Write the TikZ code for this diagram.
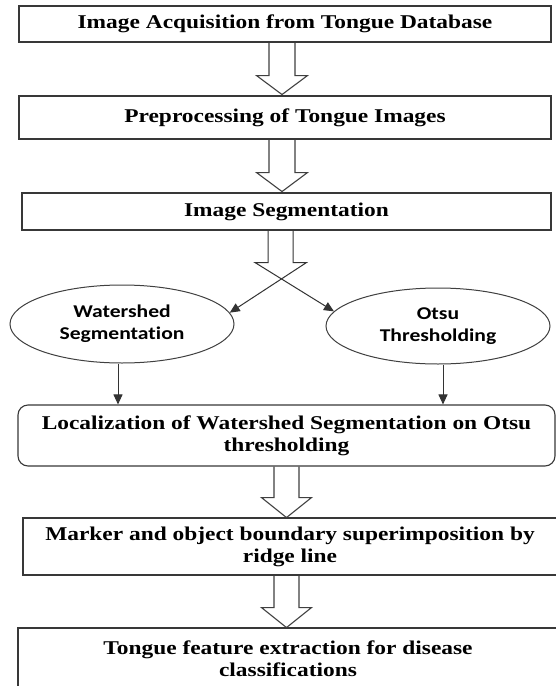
\documentclass[tikz,border=0pt]{standalone}
\usepackage{fontspec}
\setmainfont{Liberation Serif}[FakeStretch=1.2]
\newfontfamily\ovalfont{Carlito}[FakeStretch=1.2, Ligatures=NoCommon]
\usetikzlibrary{shapes.geometric,arrows.meta}
\begin{document}
\begin{tikzpicture}[x=1pt,y=-1pt,
  stage/.style={draw=black!78, line width=1.1pt, fill=white, inner sep=0pt, align=center,
    font=\fontsize{19.5}{22}\selectfont\bfseries},
  oval/.style={ellipse, draw=black!75, line width=1pt, inner sep=0pt, align=center,
    font=\ovalfont\fontsize{18}{22}\selectfont\bfseries},
  hollow/.style={draw=black!75, line width=1.1pt, line join=miter},
  arr/.style={draw=black!80, line width=1pt, -{Triangle[length=10pt,width=9pt]}},
]
\useasboundingbox (0,0) rectangle (556,686);
\fill[white] (0,0) rectangle (556,686);
\clip (0,0) rectangle (556,686);

% process stages
\node[stage, minimum width=532pt, minimum height=36pt] (b1) at (285,24)
  {Image Acquisition from Tongue Database};
\node[stage, minimum width=532pt, minimum height=43pt] (b2) at (285,117.5)
  {Preprocessing of Tongue Images};
\node[stage, minimum width=529pt, minimum height=37pt] (b3) at (286.5,211.5)
  {Image Segmentation};
\node[oval, minimum width=224pt, minimum height=78pt] (ws) at (122,324)
  {Watershed\\Segmentation};
\node[oval, minimum width=224pt, minimum height=76pt] (ot) at (438,326)
  {Otsu\\Thresholding};
\node[stage, rounded corners=10pt, minimum width=537pt, minimum height=61pt] (b4) at (286.5,435.5)
  {Localization of Watershed Segmentation on Otsu\\thresholding};
\node[stage, minimum width=534pt, minimum height=57pt] (b5) at (290,546.5)
  {Marker and object boundary superimposition by\\ridge line};
\node[stage, minimum width=540pt, minimum height=62pt] (b6) at (288,659)
  {Tongue feature extraction for disease\\classifications};

% axes of the hollow block arrows
\coordinate (ax1) at (282,0);
\coordinate (ax3) at (280.5,0);
\coordinate (ax4) at (286.5,0);

\draw[hollow] (b1.south -| ax1) ++(-13,0) -- ++(0,33) -- ++(-12.5,0) -- ++(25.5,19)
  -- ++(25.5,-19) -- ++(-12.5,0) -- ++(0,-33);
\draw[hollow] (b2.south -| ax1) ++(-13,0) -- ++(0,33) -- ++(-12.5,0) -- ++(25.5,19)
  -- ++(25.5,-19) -- ++(-12.5,0) -- ++(0,-33);
\draw[hollow] (b4.south -| ax4) ++(-12.5,0) -- ++(0,31) -- ++(-12.5,0) -- ++(25,20)
  -- ++(25,-20) -- ++(-12.5,0) -- ++(0,-31);
\draw[hollow] (b5.south -| ax4) ++(-12.5,0) -- ++(0,32) -- ++(-12.5,0) -- ++(25,20)
  -- ++(25,-20) -- ++(-12.5,0) -- ++(0,-32);

% split arrow: the head's sides cross and lead to both methods
\draw[arr] (b3.south -| ax3) ++(-12.5,0) -- ++(0,32) -- ++(-13,0) -- (ot.172);
\draw[arr] (b3.south -| ax3) ++(12.5,0) -- ++(0,32) -- ++(13.5,0) -- (ws.6);

% both methods feed the localization step
\draw[arr] ([xshift=-4pt]ws.south) -- ([xshift=-4pt]ws.south |- b4.north);
\draw[arr] ([xshift=5pt]ot.south) -- ([xshift=5pt]ot.south |- b4.north);
\end{tikzpicture}
\end{document}
